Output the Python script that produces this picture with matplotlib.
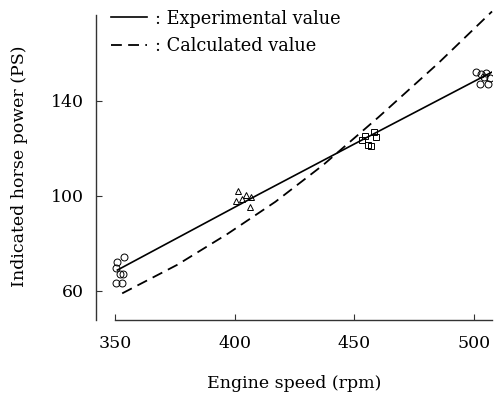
import numpy as np
import matplotlib.pyplot as plt

plt.rcParams['font.family'] = ['DejaVu Serif']

# measured points (engine speed in rpm, indicated horse power in PS)
circ_rpm = [350.8, 353.8, 350.5, 352.0, 353.5, 350.3, 352.8]
circ_hp = [72.2, 74.3, 69.7, 67.1, 67.1, 63.4, 63.4]
tri_rpm = [401.2, 400.5, 403.0, 404.8, 407.0, 406.6]
tri_hp = [102.1, 97.9, 98.7, 100.3, 99.5, 95.3]
sq_rpm = [454.5, 455.7, 458.4, 459.0, 453.3, 457.0]
sq_hp = [125.3, 121.3, 127.0, 124.7, 123.5, 121.0]
hi_rpm = [501.0, 503.0, 505.0, 502.5, 506.0, 504.0, 506.8]
hi_hp = [152.2, 151.3, 151.7, 146.9, 146.9, 150.1, 149.7]

# fitted experimental line and calculated curve
exp_rpm = [351, 410, 450, 508]
exp_hp = [68.8, 100.6, 121.8, 152.3]
calc_rpm = [353, 376, 397, 417, 437, 460, 485, 507.5]
calc_hp = [59.0, 71.0, 84.0, 97.5, 113.0, 133.0, 155.7, 177.5]

xticks = [350, 400, 450, 500]
yticks = [60, 100, 140]

fig = plt.figure(figsize=(4.99, 3.94), dpi=100)
ax = fig.add_axes([0.1924, 0.1878, 0.7936, 0.7825])

ax.plot(exp_rpm, exp_hp, color='black', lw=1.2, label=': Experimental value')
ax.plot(calc_rpm, calc_hp, color='black', lw=1.3, dashes=(6, 3.5),
        label=': Calculated value', clip_on=False)

mk = dict(linestyle='none', mfc='none', mec='black', mew=0.7, ms=5)
ax.plot(circ_rpm, circ_hp, marker='o', **mk)
ax.plot(tri_rpm, tri_hp, marker='^', **mk)
ax.plot(sq_rpm, sq_hp, marker='s', **mk)
ax.plot(hi_rpm, hi_hp, marker='o', **mk)

ax.set_xlim(342.06, 507.5)
ax.set_ylim(47.8, 177.4)
ax.spines['top'].set_visible(False)
ax.spines['right'].set_visible(False)
ax.spines['bottom'].set_bounds(350, 507.5)
ax.spines['left'].set_bounds(47.8, 176.0)
for s in ('left', 'bottom'):
    ax.spines[s].set_color('#333333')
    ax.spines[s].set_linewidth(1.0)

ax.set_xticks(xticks)
ax.set_yticks(yticks)
ax.tick_params(direction='in', length=4, width=0.8, colors='#333333',
               labelcolor='black', labelsize=12.5)
ax.tick_params(axis='x', pad=11)
ax.tick_params(axis='y', pad=9)

ax.set_xlabel('Engine speed (rpm)', fontsize=12.5)
ax.set_ylabel('Indicated horse power (PS)', fontsize=12.5)
ax.xaxis.set_label_coords(0.5, -0.178)
ax.yaxis.set_label_coords(-0.172, 0.5)

ax.legend(loc='upper left', bbox_to_anchor=(0.02, 1.03), frameon=False,
          fontsize=12.8, handlelength=2.0, handletextpad=0.45,
          labelspacing=0.55, borderaxespad=0)

fig.savefig('out.png', dpi=100)
